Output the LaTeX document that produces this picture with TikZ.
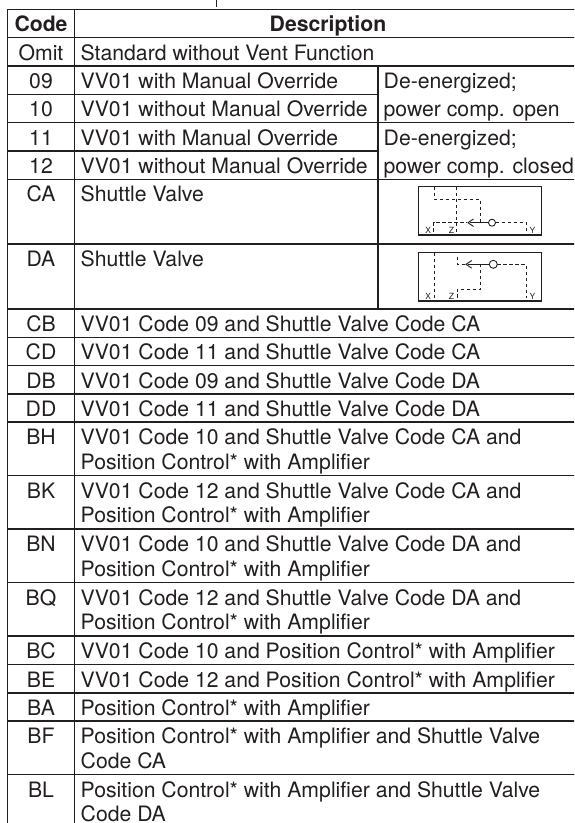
\documentclass[tikz,border=0pt]{standalone}
\usepackage{fontspec}
\setmainfont{TeX Gyre Heros}
\definecolor{ink}{HTML}{231F20}
\begin{document}
\begin{tikzpicture}[x=1pt,y=-1pt,
  every node/.style={inner sep=0pt, text=ink, font=\fontsize{21.2}{24.5}\selectfont},
  code/.style={anchor=base},
  desc/.style={anchor=base west},
  hdr/.style={anchor=base, font=\fontsize{21.2}{24.5}\selectfont\bfseries},
  rule/.style={draw=ink, line width=1.5pt},
  sbox/.style={draw=ink, line width=1.1pt},
  sline/.style={draw=ink, line width=0.9pt},
  dline/.style={draw=ink, line width=0.9pt, dash pattern=on 3.6pt off 2.4pt},
  port/.style={anchor=base, font=\fontsize{8.5}{9}\selectfont}
]
\useasboundingbox (0,0) rectangle (574,823);
\clip (0,0) rectangle (574,823);
\fill[white] (0,0) rectangle (574,823);

% fragment above the table
\draw[rule, line width=1.2pt] (216.5,0) -- (216.5,7.3);

% vertical rules
\draw[rule] (7.5,9.5) -- (7.5,830);
\draw[rule] (74.5,9.5) -- (74.5,830);
\draw[rule] (378,66.1) -- (378,309);

% horizontal rules
\foreach \y in {9.5,37.6,66.1,122.7,179.3,244,309,337.3,365.6,393.9,422.2,475.7,529.2,582.7,636.2,664.5,692.8,721.1,774.6}
  \draw[rule] (6.75,\y) -- (581,\y);
\foreach \y in {94.4,151}
  \draw[rule] (6.75,\y) -- (378,\y);

% header
\node[hdr] (hcode) at (41,31.8) {Code};
\node[hdr] (hdesc) at (328,31.8) {Description};

% rows
\node[code] (cOmit) at (41,60.1) {Omit};
\node[desc] (dOmit) at (80.5,60.1) {Standard without Vent Function};

\node[code] (c09) at (41,88.6) {09};
\node[desc] (d09) at (80.5,88.6) {VV01 with Manual Override};
\node[code] (c10) at (41,116.9) {10};
\node[desc] (d10) at (80.5,116.9) {VV01 without Manual Override};
\node[desc] (r09) at (383.5,88.6) {De-energized;};
\node[desc] (r10) at (383.5,116.9) {power comp. open};

\node[code] (c11) at (41,145.2) {11};
\node[desc] (d11) at (80.5,145.2) {VV01 with Manual Override};
\node[code] (c12) at (41,173.5) {12};
\node[desc] (d12) at (80.5,173.5) {VV01 without Manual Override};
\node[desc] (r11) at (383.5,145.2) {De-energized;};
\node[desc] (r12) at (383.5,173.5) {power comp. closed};

\node[code] (cCA) at (41,201.8) {CA};
\node[desc] (dCA) at (80.5,201.8) {Shuttle Valve};
\node[code] (cDA) at (41,266.5) {DA};
\node[desc] (dDA) at (80.5,266.5) {Shuttle Valve};

\node[code] (cCB) at (41,331.5) {CB};
\node[desc] (dCB) at (80.5,331.5) {VV01 Code 09 and Shuttle Valve Code CA};
\node[code] (cCD) at (41,359.8) {CD};
\node[desc] (dCD) at (80.5,359.8) {VV01 Code 11 and Shuttle Valve Code CA};
\node[code] (cDB) at (41,388.1) {DB};
\node[desc] (dDB) at (80.5,388.1) {VV01 Code 09 and Shuttle Valve Code DA};
\node[code] (cDD) at (41,416.4) {DD};
\node[desc] (dDD) at (80.5,416.4) {VV01 Code 11 and Shuttle Valve Code DA};

\node[code] (cBH) at (41,444.7) {BH};
\node[desc] (dBH) at (80.5,444.7) {VV01 Code 10 and Shuttle Valve Code CA and};
\node[desc] (dBH2) at (80.5,469.2) {Position Control* with Amplifier};
\node[code] (cBK) at (41,498.2) {BK};
\node[desc] (dBK) at (80.5,498.2) {VV01 Code 12 and Shuttle Valve Code CA and};
\node[desc] (dBK2) at (80.5,522.7) {Position Control* with Amplifier};
\node[code] (cBN) at (41,551.7) {BN};
\node[desc] (dBN) at (80.5,551.7) {VV01 Code 10 and Shuttle Valve Code DA and};
\node[desc] (dBN2) at (80.5,576.2) {Position Control* with Amplifier};
\node[code] (cBQ) at (41,605.2) {BQ};
\node[desc] (dBQ) at (80.5,605.2) {VV01 Code 12 and Shuttle Valve Code DA and};
\node[desc] (dBQ2) at (80.5,629.7) {Position Control* with Amplifier};

\node[code] (cBC) at (41,658.7) {BC};
\node[desc] (dBC) at (80.5,658.7) {VV01 Code 10 and Position Control* with Amplifier};
\node[code] (cBE) at (41,687) {BE};
\node[desc] (dBE) at (80.5,687) {VV01 Code 12 and Position Control* with Amplifier};
\node[code] (cBA) at (41,715.3) {BA};
\node[desc] (dBA) at (80.5,715.3) {Position Control* with Amplifier};
\node[code] (cBF) at (41,743.6) {BF};
\node[desc] (dBF) at (80.5,743.6) {Position Control* with Amplifier and Shuttle Valve};
\node[desc] (dBF2) at (80.5,768.1) {Code CA};
\node[code] (cBL) at (41,797.1) {BL};
\node[desc] (dBL) at (80.5,797.1) {Position Control* with Amplifier and Shuttle Valve};
\node[desc] (dBL2) at (80.5,821.6) {Code DA};

% ---- symbol CA ----
\draw[sbox] (418.5,186.7) rectangle (541.5,235);
\draw[dline] (434,186.7) -- (434,199) -- (480,199) -- (480,222.7);
\draw[dline] (433.5,232) -- (433.5,222.7) -- (467,222.7);
\draw[dline] (456.7,186.7) -- (456.7,232);
\draw[sline] (473.5,219) -- (468,222.7) -- (473.5,226.4);
\draw[sline] (470,222.7) -- (488.5,222.7);
\draw[sline] (492,222.7) circle (3.5);
\draw[dline] (495.5,222.7) -- (526.7,222.7) -- (526.7,232);
\node[port] (caX) at (428.3,233.5) {X};
\node[port] (caZ) at (451.5,233.5) {Z};
\node[port] (caY) at (532.5,233.5) {Y};

% ---- symbol DA ----
\draw[sbox] (418.5,252.7) rectangle (541.5,301);
\draw[dline] (434,252.7) -- (434,298);
\draw[dline] (457.3,298) -- (457.3,289.3) -- (480.7,289.3) -- (480.7,264.3);
\draw[dline] (457.3,256.5) -- (457.3,264.3) -- (465,264.3);
\draw[sline] (471.7,260.5) -- (466,264.3) -- (471.7,268.1);
\draw[sline] (468,264.3) -- (489.3,264.3);
\draw[sline] (493.3,264.3) circle (4);
\draw[dline] (497.3,264.3) -- (526,264.3) -- (526,298);
\node[port] (daX) at (428.3,299.5) {X};
\node[port] (daZ) at (451.5,299.5) {Z};
\node[port] (daY) at (532.5,299.5) {Y};
\end{tikzpicture}
\end{document}
